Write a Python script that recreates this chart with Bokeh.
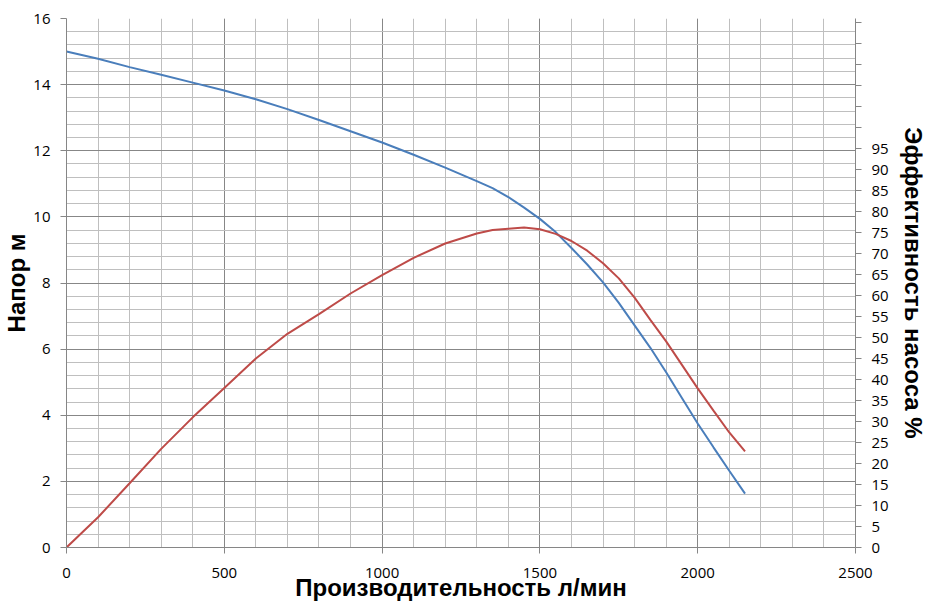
from bokeh.plotting import figure
from bokeh.models import Range1d, LinearAxis, FixedTicker, CustomJSTickFormatter
from bokeh.embed import file_html
from bokeh.resources import INLINE

# ---- data ----
flow = [0, 100, 200, 300, 400, 500, 600, 700, 800, 900, 1000, 1100, 1200,
        1300, 1350, 1400, 1450, 1500, 1550, 1600, 1650, 1700, 1750, 1800,
        1850, 1900, 1950, 2000, 2050, 2100, 2150]
head = [15.0, 14.78, 14.53, 14.30, 14.06, 13.82, 13.56, 13.26, 12.93, 12.59,
        12.25, 11.88, 11.49,
        11.08, 10.87, 10.60, 10.28, 9.94, 9.54, 9.06, 8.56, 8.02, 7.40, 6.72,
        6.04, 5.30, 4.52, 3.75, 3.03, 2.32, 1.63]
efficiency = [0.0, 7.2, 15.3, 23.5, 31.0, 38.0, 45.0, 50.9, 55.6, 60.5,
              64.9, 69.0, 72.4,
              74.8, 75.6, 75.9, 76.2, 75.8, 74.7, 73.0, 70.7, 67.7, 64.1, 59.5,
              54.2, 49.1, 43.5, 37.9, 32.6, 27.4, 22.9]

x_major = [0, 500, 1000, 1500, 2000, 2500]
x_minor = list(range(0, 2501, 100))
y_major = [0, 2, 4, 6, 8, 10, 12, 14, 16]
y_minor = [round(i * 0.4, 1) for i in range(0, 41)]
eff_ticks = list(range(0, 126, 5))
eff_label_max = 95

x_title = "Производительность л/мин"
y_title = "Напор м"
eff_title = "Эффективность насоса %"

# ---- figure ----
p = figure(width=947, height=608, output_backend="svg", toolbar_location=None,
           x_range=Range1d(0, 2500), y_range=Range1d(0, 16),
           min_border_left=66, min_border_right=92, min_border_top=18,
           min_border_bottom=61)
p.extra_y_ranges = {"eff": Range1d(0, 126)}
p.outline_line_color = None
p.background_fill_color = "white"
p.border_fill_color = "white"

xt = FixedTicker(ticks=x_major, minor_ticks=x_minor)
yt = FixedTicker(ticks=y_major, minor_ticks=y_minor)
p.xaxis[0].ticker = xt
p.xgrid[0].ticker = xt
p.yaxis[0].ticker = yt
p.ygrid[0].ticker = yt

for g in (p.xgrid[0], p.ygrid[0]):
    g.grid_line_color = "#878787"
    g.grid_line_width = 1
    g.minor_grid_line_color = "#BFBFBF"
    g.minor_grid_line_width = 1

eff_axis = LinearAxis(y_range_name="eff",
                      ticker=FixedTicker(ticks=eff_ticks),
                      formatter=CustomJSTickFormatter(
                          code="return tick <= %d ? String(tick) : '';" % eff_label_max))
p.add_layout(eff_axis, "right")

for ax in (p.xaxis[0], p.yaxis[0], eff_axis):
    ax.axis_line_color = "#868686"
    ax.major_tick_line_color = "#868686"
    ax.major_tick_in = 0
    ax.major_tick_out = 6
    ax.minor_tick_line_color = None
    ax.major_label_text_font = "Open Sans"
    ax.major_label_text_font_size = "15px"
    ax.major_label_text_color = "#000000"
    ax.axis_label_text_font = "Liberation Sans"
    ax.axis_label_text_font_style = "bold"
    ax.axis_label_text_font_size = "24px"
    ax.axis_label_text_color = "#000000"

p.xaxis[0].axis_label = x_title
p.xaxis[0].major_label_standoff = 14
p.xaxis[0].axis_label_standoff = -7
p.yaxis[0].axis_label = y_title
p.yaxis[0].major_label_standoff = 10
p.yaxis[0].axis_label_standoff = 0
eff_axis.axis_label = eff_title
eff_axis.major_label_standoff = 10
eff_axis.axis_label_standoff = 8

p.line(flow, head, line_color="#4A7EBB", line_width=2)
p.line(flow, efficiency, y_range_name="eff", line_color="#BE4B48", line_width=2)

open("out.html", "w").write(file_html(p, INLINE))
